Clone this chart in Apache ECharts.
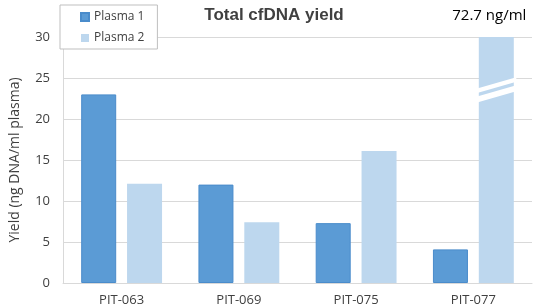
<!DOCTYPE html>
<html>
<head>
<meta charset="utf-8">
<script src="https://cdn.jsdelivr.net/npm/echarts@6/dist/echarts.min.js"></script>
<style>
html,body{margin:0;padding:0;background:#fff;}
#chart{width:536px;height:308px;}
</style>
</head>
<body>
<div id="chart"></div>
<script>
var categories = ['PIT-063', 'PIT-069', 'PIT-075', 'PIT-077'];
var plasma1 = [23, 12, 7.3, 4.1];
var plasma2 = [12.1, 7.4, 16.1, 72.7];
var yTicks = [0, 5, 10, 15, 20, 25, 30];
var brokenNote = '72.7 ng/ml';

var myChart = echarts.init(document.getElementById('chart'));
var font = '"Open Sans", sans-serif';
var barW = 35, barGapPct = 0.31;

var option = {
	animation: false,
	title: {
		text: 'Total cfDNA yield',
		left: 269,
		textAlign: 'center',
		top: 2,
		textStyle: { fontFamily: 'Liberation Sans', fontWeight: 'bold', fontSize: 17, color: '#404040' }
	},
	legend: {
		orient: 'vertical',
		left: 60,
		top: 5,
		padding: [6, 13, 5, 20],
		itemGap: 9,
		itemWidth: 8,
		itemHeight: 8,
		icon: 'rect',
		backgroundColor: '#fff',
		borderColor: '#bfbfbf',
		borderWidth: 1,
		textStyle: { fontFamily: font, fontSize: 12, color: '#404040' },
		data: ['Plasma 1', 'Plasma 2']
	},
	grid: { left: 60, right: 4, top: 37, bottom: 25, containLabel: false },
	xAxis: {
		type: 'category',
		data: categories,
		axisTick: { show: false },
		axisLine: { lineStyle: { color: '#d9d9d9' } },
		axisLabel: { fontFamily: font, fontSize: 13, color: '#404040', margin: 11 }
	},
	yAxis: {
		type: 'value',
		min: yTicks[0],
		max: yTicks[yTicks.length - 1],
		interval: yTicks[1] - yTicks[0],
		name: 'Yield (ng DNA/ml plasma)',
		nameLocation: 'middle',
		nameGap: 41,
		nameTextStyle: { fontFamily: font, fontSize: 14, color: '#404040' },
		axisLine: { show: true, lineStyle: { color: '#d9d9d9' } },
		axisTick: { show: false },
		axisLabel: { fontFamily: font, fontSize: 13, color: '#404040', margin: 13 },
		splitLine: { lineStyle: { color: '#d9d9d9' } }
	},
	series: [
		{
			name: 'Plasma 1',
			type: 'bar',
			data: plasma1,
			barWidth: barW,
			barGap: (barGapPct * 100) + '%',
			itemStyle: { color: '#5b9bd5', borderColor: '#4a8ccb', borderWidth: 1 }
		},
		{
			name: 'Plasma 2',
			type: 'bar',
			data: plasma2,
			barWidth: barW,
			clip: true,
			itemStyle: { color: '#bdd7ee' }
		}
	]
};

myChart.setOption(option);

// break marks and value note on the clipped last bar
var last = categories.length - 1;
var top30 = myChart.convertToPixel({ seriesIndex: 1 }, [last, yTicks[yTicks.length - 1]]);
var cx = top30[0] + (barW + barW * barGapPct) / 2;
var halfW = 20;
function stripe(yLeft, thick) {
	return {
		type: 'polygon',
		shape: { points: [[cx - halfW, yLeft], [cx + halfW, yLeft - 11.5], [cx + halfW, yLeft - 11.5 + thick], [cx - halfW, yLeft + thick]] },
		style: { fill: '#fff' },
		z: 100
	};
}
var yBreak = myChart.convertToPixel({ seriesIndex: 1 }, [last, 23.7])[1];
myChart.setOption({
	graphic: [
		stripe(yBreak, 4.5),
		stripe(yBreak + 8, 6),
		{
			type: 'text',
			x: cx - 7,
			y: top30[1] - 14,
			style: { text: brokenNote, fontFamily: font, fontSize: 15, fill: '#000', align: 'center', verticalAlign: 'bottom' },
			z: 100
		}
	]
});
</script>
</body>
</html>
